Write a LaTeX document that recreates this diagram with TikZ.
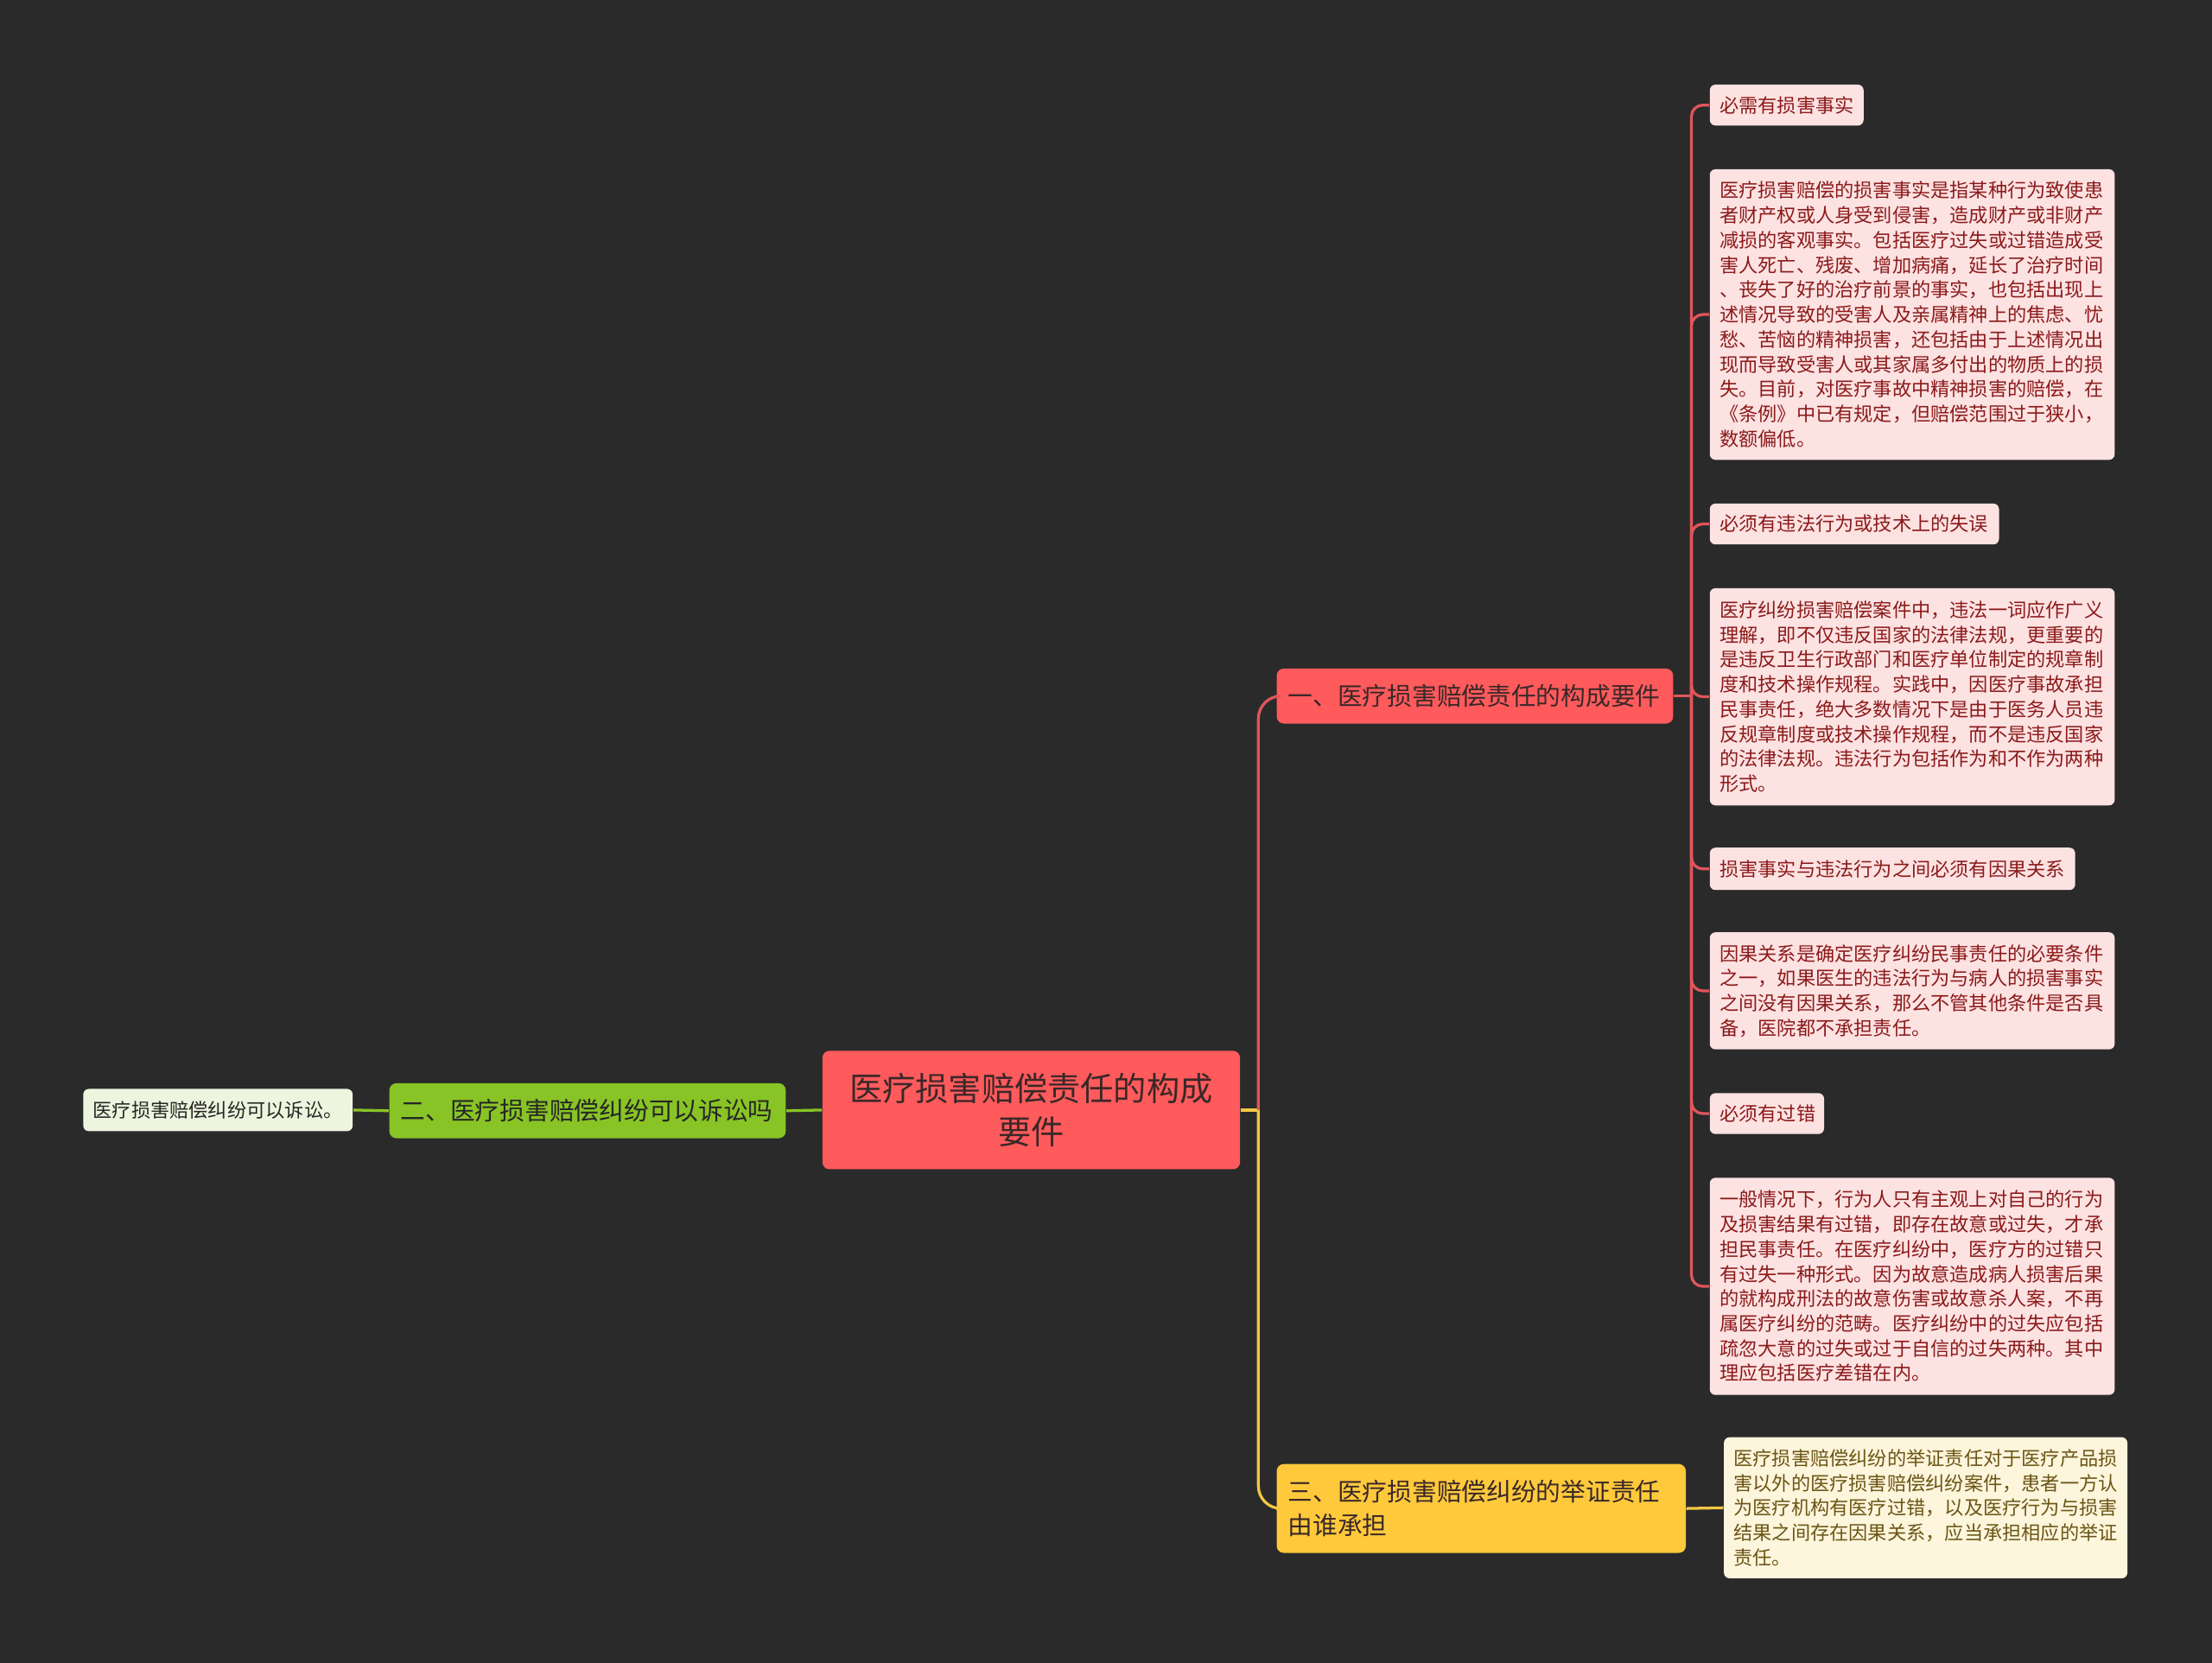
\documentclass[tikz,border=0pt]{standalone}
\usepackage{fontspec}
\setmainfont{Noto Sans CJK SC}
\definecolor{bg}{HTML}{2A2A2A}
\definecolor{rootred}{HTML}{FF5A5C}
\definecolor{redline}{HTML}{E0565B}
\definecolor{yelfill}{HTML}{FFC93C}
\definecolor{yelline}{HTML}{F2C744}
\definecolor{grnfill}{HTML}{88C425}
\definecolor{grnline}{HTML}{88C425}
\definecolor{leafred}{HTML}{FDE2E2}
\definecolor{leafredtext}{HTML}{8B1A1A}
\definecolor{leafyel}{HTML}{FDF5DC}
\definecolor{leafyeltext}{HTML}{6B5514}
\definecolor{leafgrn}{HTML}{EEF5DE}
\definecolor{darktext}{HTML}{3A2828}
\tikzset{
  rootbox/.style={fill=rootred, text=darktext, rounded corners=2.5pt, align=center, inner xsep=4pt, inner ysep=0pt,
    font=\fontsize{11.7pt}{15.5pt}\selectfont},
  brbox/.style={rounded corners=2.5pt, align=left, inner xsep=4pt, inner ysep=0pt, text=darktext,
    font=\fontsize{8.8pt}{12pt}\selectfont},
  leafbox/.style={rounded corners=2pt, align=left, inner xsep=3.5pt, inner ysep=0pt,
    font=\fontsize{6.8pt}{8.8pt}\selectfont},
  rleaf/.style={leafbox, fill=leafred, text=leafredtext},
  conn/.style={line width=1pt},
}
\begin{document}
\begin{tikzpicture}[x=0.5pt,y=-0.5pt]
\fill[bg] (0,0) rectangle (1568,1179);
\useasboundingbox (0,0) rectangle (1568,1179);

% central and main branches
\node[rootbox, text width=140pt, minimum height=42pt] (root) at (731,787) {医疗损害赔偿责任的构成\\要件};
\node[brbox, fill=rootred, text width=132.5pt, minimum height=19.5pt] (b1) at (1045.5,493.5) {一、医疗损害赔偿责任的构成要件};
\node[brbox, fill=yelfill, text width=137pt, minimum height=31.5pt] (b3) at (1050,1069.5) {三、医疗损害赔偿纠纷的举证责任\\由谁承担};
\node[brbox, fill=grnfill, text=black!85, text width=132.5pt, minimum height=19.5pt] (g) at (416.5,787.5) {二、医疗损害赔偿纠纷可以诉讼吗};

% leaves
\node[leafbox, fill=leafgrn, text=black!85, text width=88.5pt, minimum height=15pt] (gl) at (154.5,787) {医疗损害赔偿纠纷可以诉讼。};
\node[leafbox, fill=leafyel, text=leafyeltext, text width=136pt, minimum height=50pt] (yl) at (1365,1069) {医疗损害赔偿纠纷的举证责任对于医疗产品损\\害以外的医疗损害赔偿纠纷案件，患者一方认\\为医疗机构有医疗过错，以及医疗行为与损害\\结果之间存在因果关系，应当承担相应的举证\\责任。};

\node[rleaf, text width=47.5pt, minimum height=14.5pt] (L1) at (1266.5,74.5) {必需有损害事实};
\node[rleaf, text width=136.5pt, minimum height=103pt] (L2) at (1355.5,223) {医疗损害赔偿的损害事实是指某种行为致使患\\者财产权或人身受到侵害，造成财产或非财产\\减损的客观事实。包括医疗过失或过错造成受\\害人死亡、残废、增加病痛，延长了治疗时间\\、丧失了好的治疗前景的事实，也包括出现上\\述情况导致的受害人及亲属精神上的焦虑、忧\\愁、苦恼的精神损害，还包括由于上述情况出\\现而导致受害人或其家属多付出的物质上的损\\失。目前，对医疗事故中精神损害的赔偿，在\\《条例》中已有规定，但赔偿范围过于狭小，\\数额偏低。};
\node[rleaf, text width=95.5pt, minimum height=14.5pt] (L3) at (1314.5,371.5) {必须有违法行为或技术上的失误};
\node[rleaf, text width=136.5pt, minimum height=77pt] (L4) at (1355.5,494) {医疗纠纷损害赔偿案件中，违法一词应作广义\\理解，即不仅违反国家的法律法规，更重要的\\是违反卫生行政部门和医疗单位制定的规章制\\度和技术操作规程。实践中，因医疗事故承担\\民事责任，绝大多数情况下是由于医务人员违\\反规章制度或技术操作规程，而不是违反国家\\的法律法规。违法行为包括作为和不作为两种\\形式。};
\node[rleaf, text width=122.5pt, minimum height=15pt] (L5) at (1341.5,616) {损害事实与违法行为之间必须有因果关系};
\node[rleaf, text width=136.5pt, minimum height=41.5pt] (L6) at (1355.5,702.5) {因果关系是确定医疗纠纷民事责任的必要条件\\之一，如果医生的违法行为与病人的损害事实\\之间没有因果关系，那么不管其他条件是否具\\备，医院都不承担责任。};
\node[rleaf, text width=33.5pt, minimum height=14.5pt] (L7) at (1252.5,789.5) {必须有过错};
\node[rleaf, text width=136.5pt, minimum height=77pt] (L8) at (1355.5,912) {一般情况下，行为人只有主观上对自己的行为\\及损害结果有过错，即存在故意或过失，才承\\担民事责任。在医疗纠纷中，医疗方的过错只\\有过失一种形式。因为故意造成病人损害后果\\的就构成刑法的故意伤害或故意杀人案，不再\\属医疗纠纷的范畴。医疗纠纷中的过失应包括\\疏忽大意的过失或过于自信的过失两种。其中\\理应包括医疗差错在内。};

% connectors
\coordinate (j1) at (892,787);
\coordinate (j2) at (1199,493.5);
\draw[conn, yelline] (root.east) -- (j1);
\draw[conn, redline, rounded corners=8pt] (j1) |- (b1.west);
\draw[conn, yelline, rounded corners=8pt] (j1) |- (b3.west);
\draw[conn, grnline] (root.west) -- (g.east);
\draw[conn, grnline] (g.west) -- (gl.east);
\draw[conn, yelline] (b3.east) -- (yl.west);
\draw[conn, redline] (b1.east) -- (j2);
\foreach \n in {L1,L2,L3,L4,L5,L6,L7,L8}{
  \draw[conn, redline, rounded corners=4pt] (j2) |- (\n.west);
}
\end{tikzpicture}
\end{document}
